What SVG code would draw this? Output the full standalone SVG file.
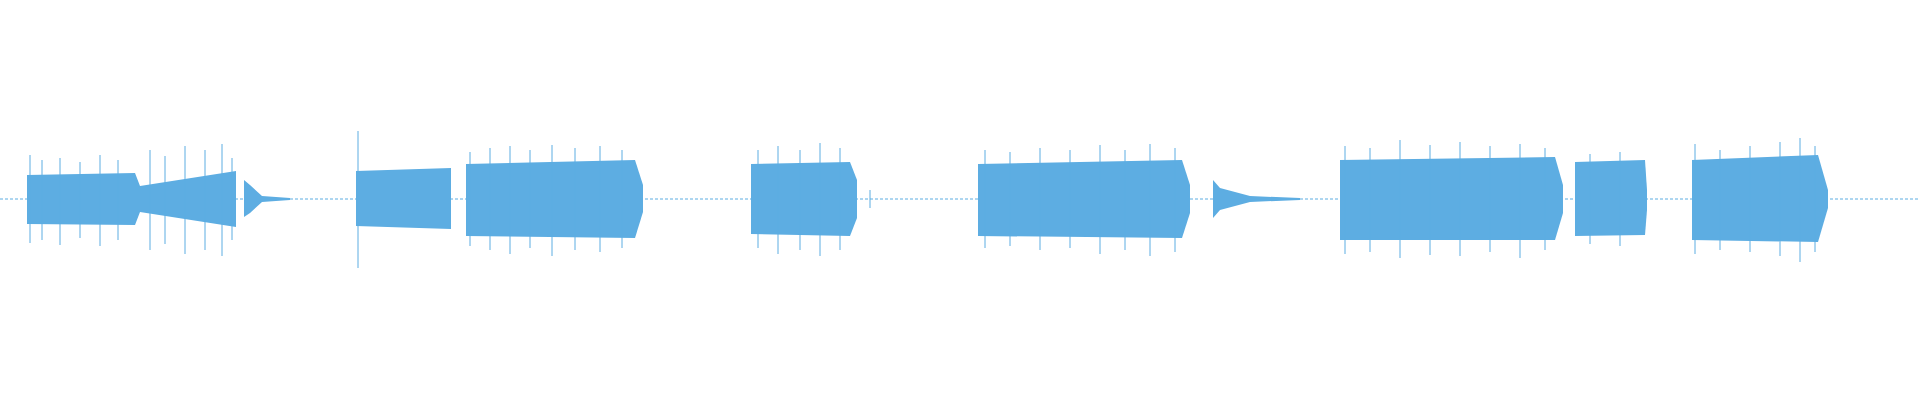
<svg xmlns="http://www.w3.org/2000/svg" width="1920" height="400" viewBox="0 0 1920 400">
<style>.w{fill:#5dade2}.s{stroke:#5dade2;stroke-width:1;fill:none}</style>
<rect width="1920" height="400" fill="#fff"/>
<line class="s" x1="0" y1="199" x2="1920" y2="199" stroke-dasharray="3,2"/>
<g id="seg1">
<path class="w" d="M27,175 L135,173 L140,186 L236,171 L236,227 L140,212 L135,225 L27,224 Z"/>
<path class="s" d="M30,155V243M42,160V240M60,158V245M80,162V238M100,155V246M118,160V240M150,150V250M165,156V244M185,146V254M205,150V250M222,144V256M232,158V240"/>
<path class="w" d="M244,180 L250,185 L262,196 L290,198 L290,200 L262,202 L250,213 L244,217 Z"/>
</g>
<g id="seg2">
<path class="s" d="M358,131V268"/>
<path class="w" d="M356,171 L451,168 L451,229 L356,226 Z"/>
<path class="w" d="M466,164 L635,160 L643,185 L643,212 L635,238 L466,236 Z"/>
<path class="s" d="M470,152V246M490,148V250M510,146V254M530,150V248M552,145V256M575,148V250M600,146V252M622,150V248"/>
</g>
<g id="seg3">
<path class="w" d="M751,164 L850,162 L857,180 L857,218 L850,236 L751,234 Z"/>
<path class="s" d="M758,150V248M778,146V254M800,150V250M820,143V256M840,148V250M870,190V208"/>
</g>
<g id="seg4">
<path class="w" d="M978,164 L1182,160 L1190,185 L1190,213 L1182,238 L978,236 Z"/>
<path class="s" d="M985,150V248M1010,152V246M1040,148V250M1070,150V248M1100,145V254M1125,150V250M1150,144V256M1175,148V252"/>
<path class="w" d="M1213,180 L1220,188 L1250,196 L1300,198 L1300,200 L1250,202 L1220,210 L1213,218 Z"/>
</g>
<g id="seg5">
<path class="w" d="M1340,160 L1555,157 L1563,185 L1563,213 L1555,240 L1340,240 Z"/>
<path class="s" d="M1345,146V254M1370,148V252M1400,140V258M1430,145V255M1460,142V256M1490,146V252M1520,144V258M1545,148V250"/>
<path class="w" d="M1575,162 L1645,160 L1647,190 L1647,210 L1645,235 L1575,236 Z"/>
<path class="s" d="M1590,154V244M1620,152V246"/>
<path class="w" d="M1692,160 L1818,155 L1828,190 L1828,208 L1818,242 L1692,240 Z"/>
<path class="s" d="M1695,144V254M1720,150V250M1750,146V252M1780,142V256M1800,138V262M1815,146V252"/>
</g>
</svg>
